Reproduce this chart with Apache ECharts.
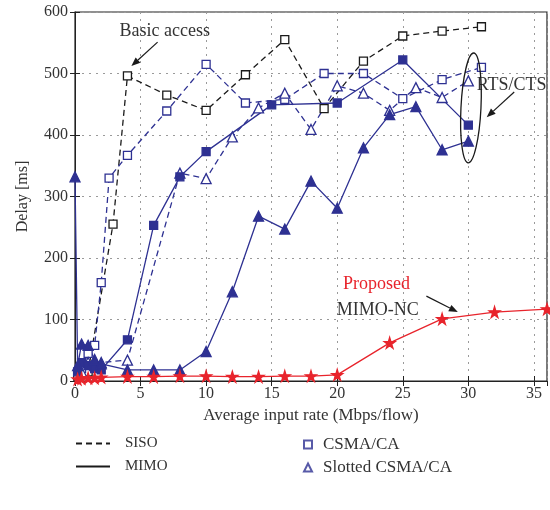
<!DOCTYPE html>
<html>
<head>
<meta charset="utf-8">
<script src="https://cdn.jsdelivr.net/npm/echarts@6/dist/echarts.min.js"></script>
<style>
  html, body { margin: 0; padding: 0; background: #fff; }
  #main { width: 550px; height: 510px; }
</style>
</head>
<body>
<div id="main"></div>
<script>
    // values: [rate (Mbps/flow), delay (ms)]
    var sisoCsmaBasic = [[0.2,8],[0.5,12],[1,15],[2.9,255],[4,496],[7,465],[10,440],[13,498],[16,555],[19,443],[22,520],[25,561],[28,569],[31,576]];
    var sisoCsmaRts = [[0.5,20],[1,45],[1.5,58],[2,160],[2.6,330],[4,367],[7,439],[10,515],[13,452],[16,458],[19,500],[22,500],[25,459],[28,490],[31,510]];
    var sisoSlotted = [[0.5,15],[1,30],[1.5,25],[2,30],[4,34],[8,338],[10,329],[12,397],[14,444],[16,468],[18,409],[20,480],[22,468],[24,440],[26,477],[28,461],[30,488]];
    var mimoCsma = [[0.2,15],[0.5,30],[1,25],[1.5,20],[2,18],[4,67],[6,253],[8,332],[10,373],[15,449],[20,452],[25,522],[30,416]];
    var mimoSlotted = [[0,332],[0.2,25],[0.5,60],[1,58],[1.5,35],[2,28],[4,18],[6,18],[8,18],[10,48],[12,145],[14,268],[16,247],[18,325],[20,281],[22,379],[24,433],[26,446],[28,376],[30,390]];
    var proposedNc = [[0.2,3],[0.5,4],[1,5],[1.5,5],[2,6],[4,7],[6,7],[8,8],[10,8],[12,7],[14,7],[16,8],[18,8],[20,10],[24,62],[28,101],[32,112],[36,117]];

    var xTicks = [0, 5, 10, 15, 20, 25, 30, 35];
    var yTicks = [0, 100, 200, 300, 400, 500, 600];

    var navy = '#2e3192';
    var red = '#e8242c';
    var ink = '#1a1a1a';
    var serif = '"Liberation Serif", "DejaVu Serif", serif';
    var starPath = 'path://M50,0 L61,35 L98,35 L68,57 L79,91 L50,70 L21,91 L32,57 L2,35 L39,35 Z';

    var myChart = echarts.init(document.getElementById('main'));

    function lineSeries(name, data, color, dashed, symbol, filled, size){
        return {
            name : name,
            type : 'line',
            data : data,
            symbol : symbol,
            symbolSize : size,
            showAllSymbol : true,
            lineStyle : { color : color, width : 1.3, type : dashed ? [6,4] : 'solid' },
            itemStyle : { color : filled ? color : '#fff', borderColor : color, borderWidth : 1.3 },
            z : 3,
            animation : false
        };
    }

    option = {
        animation : false,
        grid : { left : 75, right : 3, top : 12, bottom : 129, show : true, borderColor : '#222', borderWidth : 1.2 },
        xAxis : [{
            type : 'value', min : 0, max : 36, interval : 5,
            name : 'Average input rate (Mbps/flow)', nameLocation : 'middle', nameGap : 26,
            nameTextStyle : { fontFamily : serif, fontSize : 17, color : '#333' },
            axisLine : { lineStyle : { color : '#222' } },
            axisTick : { inside : true, length : 5, lineStyle : { color : '#222' } },
            axisLabel : { fontFamily : serif, fontSize : 16, color : '#333', showMaxLabel : false, margin : 5,
                formatter : function(v){ return xTicks.indexOf(v) >= 0 ? v : ''; } },
            splitLine : { show : true, lineStyle : { color : '#9a9a9a', type : [2,5] } }
        },{
            type : 'value', min : 0, max : 36, interval : 5, position : 'top',
            axisLine : { show : false }, axisLabel : { show : false }, splitLine : { show : false },
            axisTick : { inside : true, length : 5, lineStyle : { color : '#222' } }
        }],
        yAxis : [{
            type : 'value', min : 0, max : 600, interval : 100,
            name : 'Delay [ms]', nameLocation : 'middle', nameGap : 44,
            nameTextStyle : { fontFamily : serif, fontSize : 16, color : '#333' },
            axisLine : { lineStyle : { color : '#222' } },
            axisTick : { inside : true, length : 5, lineStyle : { color : '#222' } },
            axisLabel : { fontFamily : serif, fontSize : 16, color : '#333', margin : 7,
                formatter : function(v){ return yTicks.indexOf(v) >= 0 ? v : ''; } },
            splitLine : { show : true, lineStyle : { color : '#9a9a9a', type : [2,5] } }
        },{
            type : 'value', min : 0, max : 600, interval : 100, position : 'right',
            axisLine : { show : false }, axisLabel : { show : false }, splitLine : { show : false },
            axisTick : { inside : true, length : 5, lineStyle : { color : '#222' } }
        }],
        legend : [{
            data : [
                { name : 'SISO', itemStyle : { opacity : 0 } },
                { name : 'MIMO', itemStyle : { opacity : 0 } }
            ],
            orient : 'vertical', left : 70, top : 431,
            itemWidth : 34, itemHeight : 10, itemGap : 8,
            selectedMode : false,
            textStyle : { fontFamily : serif, fontSize : 15, color : '#333', padding : [0,0,0,10] }
        },{
            data : ['CSMA/CA', 'Slotted CSMA/CA'],
            orient : 'vertical', left : 298, top : 431,
            itemWidth : 8, itemHeight : 8, itemGap : 6,
            selectedMode : false,
            textStyle : { fontFamily : serif, fontSize : 17, color : '#333', padding : [0,0,0,6] }
        }],
        series : [
            lineSeries('Basic access', sisoCsmaBasic, ink, true, 'rect', false, 8),
            lineSeries('RTS/CTS CSMA', sisoCsmaRts, navy, true, 'rect', false, 8),
            lineSeries('RTS/CTS Slotted', sisoSlotted, navy, true, 'triangle', false, 10),
            lineSeries('MIMO CSMA', mimoCsma, navy, false, 'rect', true, 8),
            lineSeries('MIMO Slotted', mimoSlotted, navy, false, 'triangle', true, 10),
            lineSeries('Proposed MIMO-NC', proposedNc, red, false, starPath, true, 11),
            { name : 'SISO', type : 'line', data : [], symbol : 'none', lineStyle : { color : ink, width : 1.3, type : [6,4] }, itemStyle : { color : ink, opacity : 0 } },
            { name : 'MIMO', type : 'line', data : [], symbol : 'none', lineStyle : { color : ink, width : 1.3 }, itemStyle : { color : ink, opacity : 0 } },
            { name : 'CSMA/CA', type : 'scatter', data : [], symbol : 'rect', itemStyle : { color : '#fff', borderColor : navy, borderWidth : 1.5 } },
            { name : 'Slotted CSMA/CA', type : 'scatter', data : [], symbol : 'triangle', itemStyle : { color : '#fff', borderColor : navy, borderWidth : 1.5 } }
        ]
    };
    myChart.setOption(option);

    // annotations, placed in data coordinates
    function px(p){ return myChart.convertToPixel({ gridIndex : 0 }, p); }

    function arrow(from, to){
        var a = px(from), b = px(to);
        var ang = Math.atan2(b[1]-a[1], b[0]-a[0]);
        var L = 9, W = 3.5;
        var bx = b[0] - L*Math.cos(ang), by = b[1] - L*Math.sin(ang);
        return [{
            type : 'line', z : 10,
            shape : { x1 : a[0], y1 : a[1], x2 : bx, y2 : by },
            style : { stroke : ink, lineWidth : 1.2 }
        },{
            type : 'polygon', z : 10,
            shape : { points : [[b[0], b[1]], [bx - W*Math.sin(ang), by + W*Math.cos(ang)], [bx + W*Math.sin(ang), by - W*Math.cos(ang)]] },
            style : { fill : ink }
        }];
    }

    function label(text, at, color){
        var p = px(at);
        return { type : 'text', z : 10, x : p[0], y : p[1],
            style : { text : text, fill : color, font : '18px ' + serif, textAlign : 'center', textVerticalAlign : 'middle' } };
    }

    var ellC = px([30.2, 444]);
    var graphics = [
        label('Basic access', [6.85, 568], '#333'),
        label('RTS/CTS', [33.3, 481], '#333'),
        label('Proposed', [23.0, 158], red),
        label('MIMO-NC', [23.1, 115], '#333'),
        { type : 'ellipse', z : 10, x : ellC[0], y : ellC[1], rotation : -0.05,
          shape : { cx : 0, cy : 0, rx : 10, ry : 55 },
          style : { fill : 'none', stroke : ink, lineWidth : 1.3 } }
    ].concat(arrow([6.3, 551], [4.3, 512]))
     .concat(arrow([33.5, 470], [31.4, 429]))
     .concat(arrow([26.8, 138], [29.2, 112]));

    myChart.setOption({ graphic : graphics });
</script>
</body>
</html>
